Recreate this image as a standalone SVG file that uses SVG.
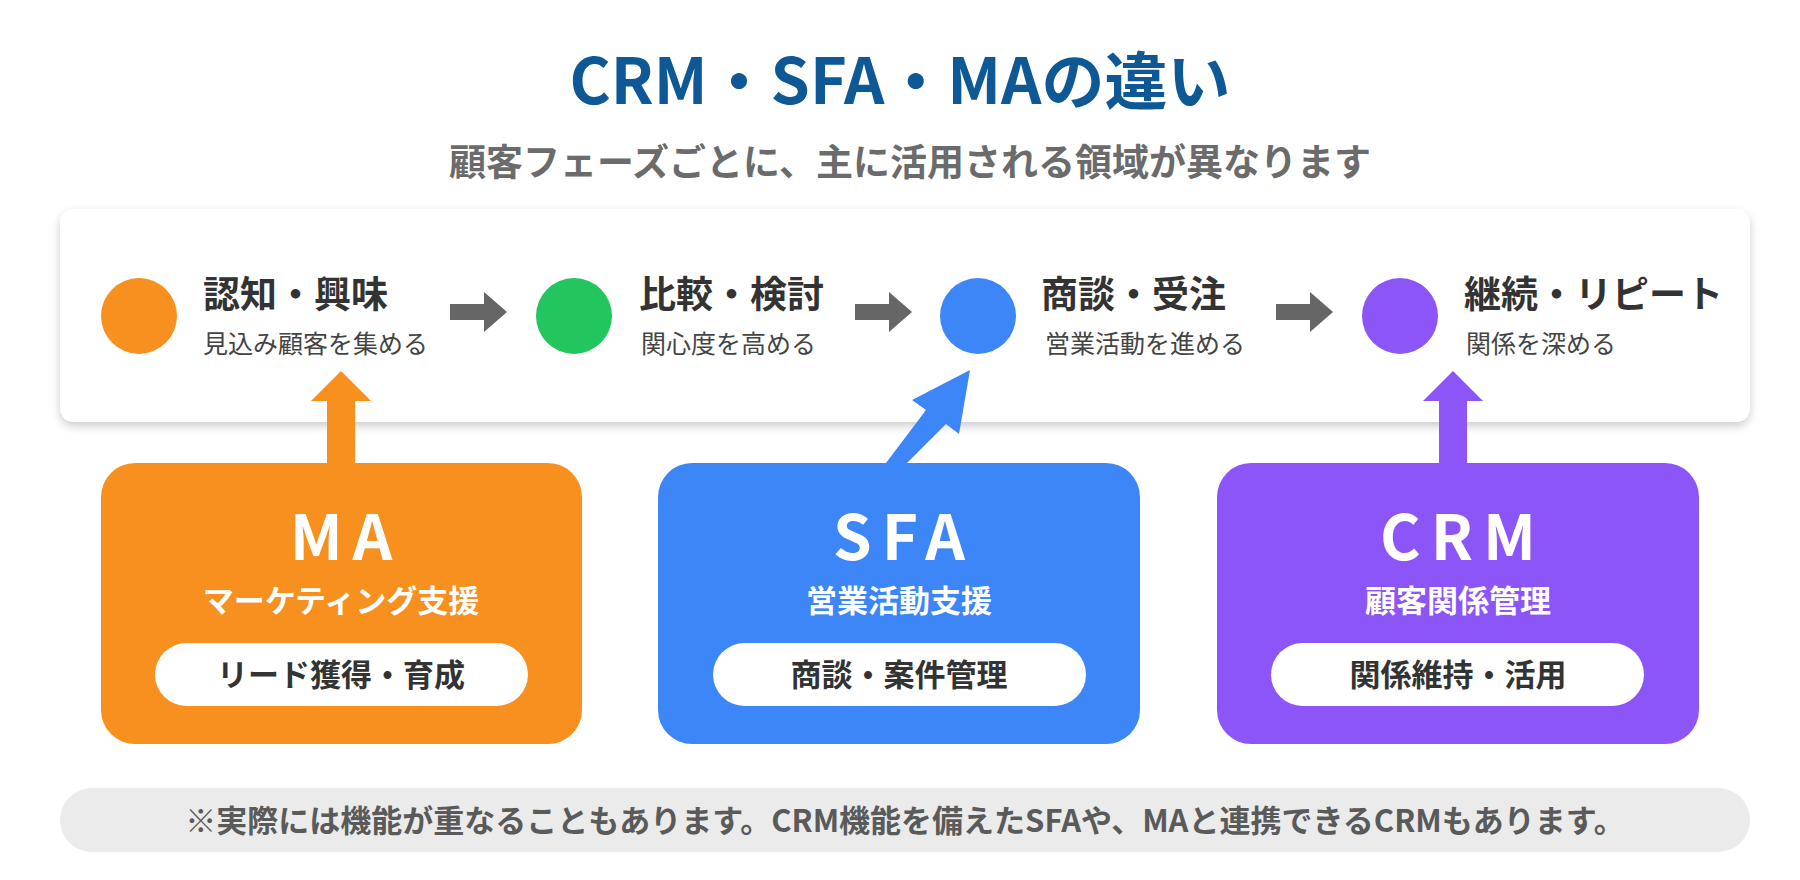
<svg xmlns="http://www.w3.org/2000/svg" width="1800" height="880" viewBox="0 0 1800 880">
<defs>
<style>
text{font-family:"Noto Sans CJK JP","Noto Sans",sans-serif}
.ph{font-size:37px;font-weight:700;fill:#333}
.ps{font-size:25px;fill:#444}
.bt{font-size:62px;font-weight:700;fill:#fff;letter-spacing:10px}
.bs{font-size:31px;font-weight:700;fill:#fff}
.pl{font-size:31px;font-weight:700;fill:#333}
</style>
<filter id="sh" x="-5%" y="-20%" width="110%" height="150%"><feDropShadow dx="0" dy="4" stdDeviation="5" flood-color="#000" flood-opacity="0.2"/></filter>
</defs>
<rect width="1800" height="880" fill="#fff"/>
<text x="900" y="104" text-anchor="middle" font-size="63" font-weight="700" fill="#0e5896">CRM・SFA・MAの違い</text>
<text x="910" y="176" text-anchor="middle" font-size="37" font-weight="700" fill="#6b6b6b">顧客フェーズごとに、主に活用される領域が異なります</text>
<rect x="60" y="209" width="1690" height="213" rx="14" fill="#fff" filter="url(#sh)"/>
<g id="phase1"><circle cx="139" cy="316" r="38" fill="#f7901e"/><text class="ph" x="203" y="308">認知・興味</text><text class="ps" x="203" y="353">見込み顧客を集める</text></g>
<g id="phase2"><circle cx="574" cy="316" r="38" fill="#22c55e"/><text class="ph" x="639" y="308">比較・検討</text><text class="ps" x="641" y="353">関心度を高める</text></g>
<g id="phase3"><circle cx="978" cy="316" r="38" fill="#3d86f7"/><text class="ph" x="1041" y="308">商談・受注</text><text class="ps" x="1045" y="353">営業活動を進める</text></g>
<g id="phase4"><circle cx="1400" cy="316" r="38" fill="#8b55f7"/><text class="ph" x="1464" y="308">継続・リピート</text><text class="ps" x="1466" y="353">関係を深める</text></g>
<g id="ma"><rect x="101" y="463" width="481" height="281" rx="34" fill="#f7901e"/><text class="bt" x="346" y="560" text-anchor="middle">MA</text><text class="bs" x="341" y="612" text-anchor="middle">マーケティング支援</text><rect x="155" y="643" width="373" height="63" rx="31.5" fill="#fff"/><text class="pl" x="341" y="686" text-anchor="middle">リード獲得・育成</text></g>
<g id="sfa"><rect x="658" y="463" width="482" height="281" rx="34" fill="#3d86f7"/><text class="bt" x="904" y="560" text-anchor="middle">SFA</text><text class="bs" x="899" y="612" text-anchor="middle">営業活動支援</text><rect x="713" y="643" width="373" height="63" rx="31.5" fill="#fff"/><text class="pl" x="899" y="686" text-anchor="middle">商談・案件管理</text></g>
<g id="crm"><rect x="1217" y="463" width="482" height="281" rx="34" fill="#8b55f7"/><text class="bt" x="1463" y="560" text-anchor="middle">CRM</text><text class="bs" x="1458" y="612" text-anchor="middle">顧客関係管理</text><rect x="1271" y="643" width="373" height="63" rx="31.5" fill="#fff"/><text class="pl" x="1458" y="686" text-anchor="middle">関係維持・活用</text></g>
<g id="connectors">
<g fill="#666">
<polygon points="450,304 484,304 484,292 507,312 484,332 484,320 450,320"/>
<polygon points="855,304 889,304 889,292 912,312 889,332 889,320 855,320"/>
<polygon points="1276,304 1310,304 1310,292 1333,312 1310,332 1310,320 1276,320"/>
</g>
<polygon points="327,463 327,401 311,401 341,371 371,401 355,401 355,463" fill="#f7901e"/>
<polygon points="1439,463 1439,401 1423,401 1453,371 1483,401 1467,401 1467,463" fill="#8b55f7"/>
<polygon points="886,463 926,410 912,400 970,370 959,434 946,424 907,463" fill="#3d86f7"/>
</g>
<rect x="60" y="788" width="1690" height="64" rx="32" fill="#ebebeb"/>
<text x="905" y="832" text-anchor="middle" font-size="31" font-weight="700" fill="#5a5a5a">※実際には機能が重なることもあります。CRM機能を備えたSFAや、MAと連携できるCRMもあります。</text>
</svg>
